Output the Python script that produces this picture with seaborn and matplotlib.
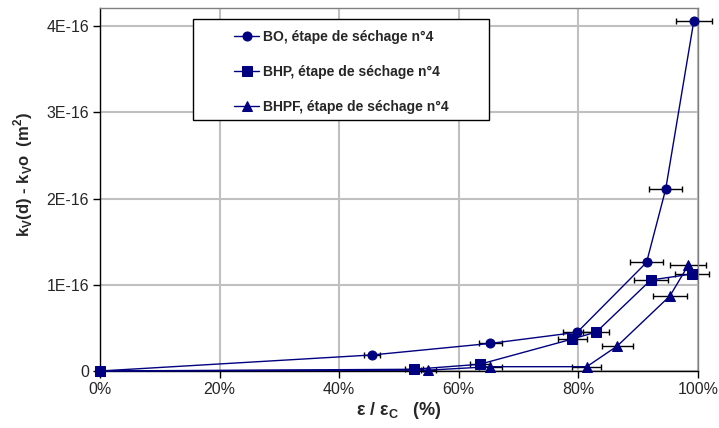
import numpy as np
import pandas as pd
import matplotlib
matplotlib.use("Agg")
import matplotlib.pyplot as plt
from matplotlib.patches import Rectangle
from matplotlib.ticker import FuncFormatter
import seaborn as sns

# ---- data (x = eps/eps_c, y = kv(d) - kvo in m2) ----
bo_x = [0.0, 0.455, 0.653, 0.798, 0.914, 0.946, 0.993]
bo_y = [0.0, 0.186e-16, 0.32e-16, 0.449e-16, 1.26e-16, 2.11e-16, 4.06e-16]
bo_err = [0.0, 0.013, 0.020, 0.024, 0.027, 0.028, 0.030]

bhp_x = [0.0, 0.525, 0.635, 0.790, 0.830, 0.921, 0.990]
bhp_y = [0.0, 0.02e-16, 0.078e-16, 0.371e-16, 0.452e-16, 1.055e-16, 1.125e-16]
bhp_err = [0.0, 0.015, 0.017, 0.024, 0.022, 0.028, 0.029]

bhpf_x = [0.0, 0.549, 0.653, 0.814, 0.865, 0.953, 0.984]
bhpf_y = [0.0, 0.01e-16, 0.05e-16, 0.05e-16, 0.29e-16, 0.87e-16, 1.23e-16]
bhpf_err = [0.0, 0.013, 0.020, 0.024, 0.026, 0.029, 0.030]

labels = ["BO, étape de séchage n°4",
          "BHP, étape de séchage n°4",
          "BHPF, étape de séchage n°4"]

df = pd.concat([
    pd.DataFrame({"x": bo_x, "y": bo_y, "err": bo_err, "serie": labels[0]}),
    pd.DataFrame({"x": bhp_x, "y": bhp_y, "err": bhp_err, "serie": labels[1]}),
    pd.DataFrame({"x": bhpf_x, "y": bhpf_y, "err": bhpf_err, "serie": labels[2]}),
], ignore_index=True)

sns.set_style("white")
plt.rcParams["font.family"] = ["Liberation Sans", "DejaVu Sans"]
plt.rcParams["mathtext.fontset"] = "custom"
plt.rcParams["mathtext.rm"] = "Liberation Sans"
plt.rcParams["mathtext.bf"] = "Liberation Sans:bold"

navy = "#000080"

fig = plt.figure(figsize=(7.19, 4.28), dpi=100)
ax = fig.add_axes([100/719, 1-371/428, 598/719, 363/428])

# error bars (horizontal only), behind the lines
for name, g in df.groupby("serie", sort=False):
    ax.errorbar(g["x"], g["y"], xerr=g["err"], fmt="none", ecolor="black",
                elinewidth=1, capsize=2.5, capthick=1, zorder=2, clip_on=False)

sns.lineplot(data=df, x="x", y="y", style="serie", ax=ax,
             markers={labels[0]: "o", labels[1]: "s", labels[2]: "^"},
             dashes=False, sort=False, estimator=None, color=navy,
             linewidth=1, markersize=6.5, markeredgecolor=navy, zorder=3,
             clip_on=False)

ax.set_xlim(0, 1)
ax.set_ylim(0, 4.21e-16)
ax.set_xticks(np.arange(0, 1.01, 0.2))
ax.set_yticks(np.arange(0, 4.1e-16, 1e-16))
ax.xaxis.set_major_formatter(FuncFormatter(lambda v, p: f"{v*100:.0f}%"))
ax.yaxis.set_major_formatter(FuncFormatter(
    lambda v, p: "0" if abs(v) < 1e-20 else f"{v/1e-16:.0f}E-16"))
ax.tick_params(axis="both", direction="out", length=5, width=1,
               color="black", labelsize=11.5, pad=3, bottom=True, left=True)

ax.grid(True, color="#c0c0c0", linewidth=1.5)
ax.set_axisbelow(True)
for s in ["top", "right"]:
    ax.spines[s].set_color("#808080")
    ax.spines[s].set_linewidth(1)
for s in ["left", "bottom"]:
    ax.spines[s].set_color("black")
    ax.spines[s].set_linewidth(1)

ax.set_xlabel("ε / ε$_\\mathregular{C}$   (%)", fontsize=13, fontweight="bold",
              labelpad=2)
ax.set_ylabel("k$_\\mathbf{V}$(d) - k$_\\mathbf{V}$o  (m$^\\mathbf{2}$)",
              fontsize=12, fontweight="bold")
ax.yaxis.set_label_coords(-0.108, 0.54)

# legend: Excel-like box
handles, labs = ax.get_legend_handles_labels()
if ax.get_legend() is not None:
    ax.get_legend().remove()
ax.add_patch(Rectangle((193/719, 1-120/428), (489-193)/719, (120-19)/428,
                       transform=fig.transFigure, facecolor="white",
                       edgecolor="black", linewidth=1, zorder=5, clip_on=False))
leg = fig.legend(handles[-3:], labs[-3:], loc="upper left",
                 bbox_to_anchor=(234/719, 1-30/428), frameon=False,
                 prop={"weight": "bold", "size": 10}, handlelength=1.8,
                 handletextpad=0.3, labelspacing=1.5, borderpad=0,
                 borderaxespad=0)
leg.set_zorder(6)

fig.savefig("out.png", dpi=100)
